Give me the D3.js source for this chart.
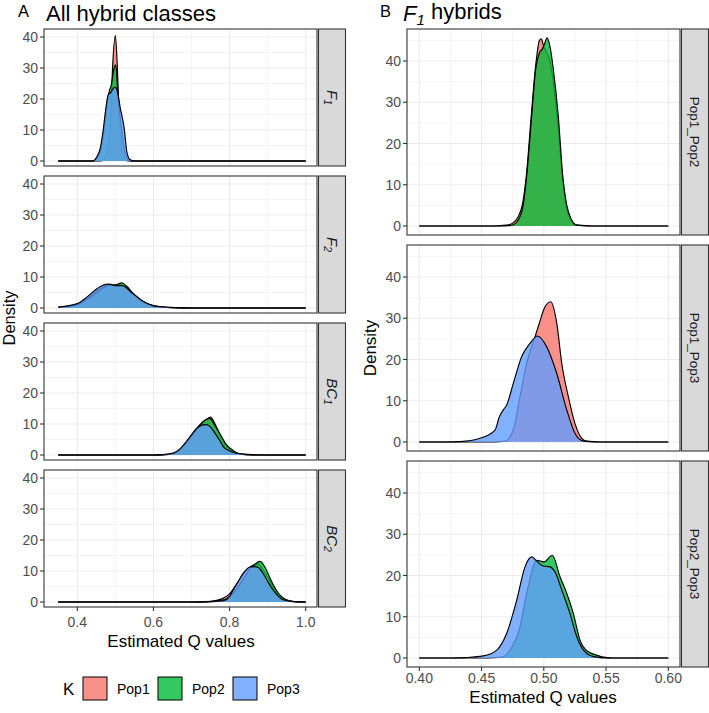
<!DOCTYPE html>
<html><head><meta charset="utf-8">
<script src="https://cdn.jsdelivr.net/npm/d3@7"></script>
<style>body{margin:0;background:#fff}svg{display:block}text{font-family:"Liberation Sans",Arial,sans-serif}</style>
</head><body><svg id="c" width="709" height="713"></svg>
<script>
// ---------------- data ----------------
const pops = ["Pop1", "Pop2", "Pop3"];
const popColors = ["#F8766D", "#00BA38", "#619CFF"];
const leftFacets = ["F1", "F2", "BC1", "BC2"];
const rightFacets = ["Pop1_Pop2", "Pop1_Pop3", "Pop2_Pop3"];
const leftXTicks = [0.4, 0.6, 0.8, 1.0];
const leftXMinor = [0.5, 0.7, 0.9];
const rightXTicks = [0.40, 0.45, 0.50, 0.55, 0.60];
const rightXMinor = [0.425, 0.475, 0.525, 0.575];
const yTicks = [0, 10, 20, 30, 40];
const yMinorLeft = [5, 15, 25, 35];
const yMinorRight = [5, 15, 25, 35, 45];

// Panel A densities [Q, density]
const aF1Pop1 = [[0.35,0],[0.46,0],[0.47,0.5],[0.48,3],[0.487,12],[0.493,31],[0.5,40.5],[0.505,31],[0.51,15],[0.516,5],[0.522,1],[0.53,0.1],[0.54,0],[1.0,0]];
const aF1Pop2 = [[0.35,0],[0.44,0],[0.445,0.2],[0.452,1],[0.46,3],[0.468,8],[0.475,15],[0.483,22],[0.49,25],[0.495,29],[0.5,31],[0.503,29],[0.506,22],[0.512,15],[0.518,9],[0.524,3.5],[0.53,1],[0.54,0],[1.0,0]];
const aF1Pop3 = [[0.35,0],[0.44,0],[0.445,0.3],[0.451,1.3],[0.46,4],[0.468,10],[0.475,17],[0.481,21.3],[0.487,22],[0.494,23.3],[0.4985,23.8],[0.5035,23.2],[0.513,17],[0.5235,10.3],[0.53,3],[0.538,0.5],[0.55,0],[1.0,0]];
const aF2Pop1 = [[0.35,0.2],[0.4,1.2],[0.43,3.5],[0.46,6.2],[0.48,7.3],[0.5,7.4],[0.515,7.5],[0.53,6.3],[0.55,4.0],[0.575,1.9],[0.6,0.7],[0.65,0.1],[0.7,0],[1.0,0]];
const aF2Pop2 = [[0.35,0.2],[0.4,1.0],[0.43,3.0],[0.46,5.8],[0.48,7.1],[0.5,7.4],[0.517,8.1],[0.53,7.0],[0.547,4.7],[0.573,2.0],[0.6,0.8],[0.65,0.1],[0.7,0],[1.0,0]];
const aF2Pop3 = [[0.35,0.3],[0.4,1.4],[0.426,3.6],[0.4525,6.3],[0.4745,7.6],[0.485,7.7],[0.5,7.2],[0.518,7.2],[0.5445,4.8],[0.575,2.0],[0.6,0.7],[0.645,0.2],[0.7,0],[1.0,0]];
const aBC1Pop1 = [[0.35,0],[0.6,0],[0.64,0.2],[0.66,1],[0.68,3],[0.7,6.5],[0.72,9.5],[0.74,11.5],[0.75,12.2],[0.76,10.5],[0.775,6.5],[0.79,3.2],[0.81,1],[0.83,0.3],[0.86,0],[1.0,0]];
const aBC1Pop2 = [[0.35,0],[0.6,0],[0.64,0.2],[0.66,0.8],[0.68,3],[0.7,6],[0.72,9.3],[0.735,11.2],[0.748,11.8],[0.76,9.8],[0.775,6.8],[0.79,3.6],[0.81,1.4],[0.826,0.4],[0.85,0.1],[0.88,0],[1.0,0]];
const aBC1Pop3 = [[0.35,0],[0.6,0],[0.63,0.2],[0.652,0.6],[0.67,2],[0.683,3.8],[0.7,6.5],[0.715,8.7],[0.73,9.7],[0.74,9.8],[0.75,9.0],[0.762,7],[0.775,4.5],[0.7835,2.7],[0.8,1.3],[0.81,0.8],[0.836,0.3],[0.86,0.1],[0.9,0],[1.0,0]];
const aBC2Pop1 = [[0.35,0],[0.7,0],[0.75,0.2],[0.78,1],[0.8,2.6],[0.82,6],[0.84,9.6],[0.86,11.8],[0.875,12.2],[0.89,10],[0.905,7],[0.92,3.5],[0.94,1.2],[0.96,0.3],[0.98,0.05],[1.0,0]];
const aBC2Pop2 = [[0.35,0],[0.72,0],[0.76,0.2],[0.79,0.9],[0.81,2.8],[0.83,6.2],[0.85,10],[0.865,12],[0.88,13.1],[0.893,11.2],[0.9065,7.7],[0.918,4.8],[0.928,2.9],[0.94,1.4],[0.95,0.6],[0.97,0.1],[1.0,0]];
const aBC2Pop3 = [[0.35,0],[0.7,0],[0.75,0.1],[0.7835,0.4],[0.8,1.8],[0.81,4],[0.823,6.7],[0.836,9.3],[0.8537,11.3],[0.865,11.4],[0.8755,11.1],[0.886,9.6],[0.8975,7.2],[0.91,4.6],[0.924,2.4],[0.937,1],[0.95,0.4],[0.97,0.1],[1.0,0]];

// Panel B densities
const b12Pop1 = [[0.4,0],[0.46,0],[0.47,0.2],[0.475,0.7],[0.479,2],[0.483,5.5],[0.486,12.3],[0.49,27],[0.4935,39],[0.4965,45],[0.498,45.4],[0.4995,44],[0.5015,42.5],[0.505,40],[0.5076,35],[0.5116,24],[0.515,11.5],[0.518,4.8],[0.522,1.3],[0.527,0.2],[0.54,0],[0.6,0]];
const b12Pop2 = [[0.4,0],[0.465,0],[0.472,0.1],[0.4755,0.3],[0.4795,1.45],[0.4835,5.1],[0.4863,12.3],[0.4903,26.8],[0.4935,38.1],[0.4965,42],[0.499,43],[0.501,44.5],[0.5025,45.6],[0.505,43.5],[0.5076,38.1],[0.5116,26.8],[0.5152,12.3],[0.5184,5.1],[0.5224,1.45],[0.5264,0.2],[0.535,0],[0.6,0]];
const b13Pop1 = [[0.4,0],[0.46,0],[0.4688,0.2],[0.4755,2.9],[0.4809,11],[0.4863,19.1],[0.4929,25.5],[0.4964,28.8],[0.5005,32.5],[0.5055,34.0],[0.5104,28.8],[0.5144,19.1],[0.5197,11],[0.525,4.5],[0.5304,0.9],[0.5345,0.2],[0.545,0],[0.6,0]];
const b13Pop3 = [[0.4,0],[0.42,0],[0.4327,0.1],[0.4488,0.9],[0.4608,2.9],[0.4643,6.1],[0.4675,7.8],[0.4702,9],[0.4755,14.2],[0.4822,20.7],[0.4889,23.9],[0.4948,25.7],[0.5023,23.1],[0.5104,16.6],[0.5184,7.8],[0.525,2.1],[0.5317,0.2],[0.54,0],[0.6,0]];
const b23Pop2 = [[0.4,0],[0.455,0],[0.466,0.2],[0.4729,1.9],[0.4809,7.6],[0.4863,15.7],[0.4943,23.7],[0.5002,23.3],[0.5068,24.9],[0.513,19.7],[0.5184,15.7],[0.5237,10.8],[0.529,4.4],[0.5357,1.5],[0.5425,0.7],[0.5478,0.2],[0.555,0],[0.6,0]];
const b23Pop3 = [[0.4,0],[0.425,0],[0.437,0.1],[0.4514,0.5],[0.4622,1.9],[0.4702,6],[0.4782,14],[0.4849,22.1],[0.4903,24.5],[0.4943,23.5],[0.4996,22.3],[0.505,22.1],[0.509,20.9],[0.5144,16.5],[0.521,10.8],[0.5264,5.2],[0.5345,1.1],[0.5425,0.2],[0.55,0],[0.6,0]];

const leftSeries = [
  [[aF1Pop1,0],[aF1Pop2,1],[aF1Pop3,2]],
  [[aF2Pop1,0],[aF2Pop2,1],[aF2Pop3,2]],
  [[aBC1Pop1,0],[aBC1Pop2,1],[aBC1Pop3,2]],
  [[aBC2Pop1,0],[aBC2Pop2,1],[aBC2Pop3,2]]
];
const rightSeries = [
  [[b12Pop1,0],[b12Pop2,1]],
  [[b13Pop1,0],[b13Pop3,2]],
  [[b23Pop2,1],[b23Pop3,2]]
];

// ---------------- drawing ----------------
const svg = d3.select("#c");
const gridCol = "#EBEBEB", borderCol = "#333333", tickTextCol = "#4D4D4D";

function drawPanel(opt){
  const {top, h, x0, x1, xs, y0off, y40off, series, xTicks, xMinor, yMinor, id, showX} = opt;
  const ys = d3.scaleLinear().domain([0,40]).range([top+y0off, top+y40off]);
  const g = svg.append("g");
  const clipId = "clip"+id;
  svg.append("clipPath").attr("id", clipId).append("rect").attr("x",x0).attr("y",top).attr("width",x1-x0).attr("height",h);
  g.append("rect").attr("x",x0).attr("y",top).attr("width",x1-x0).attr("height",h).attr("fill","#fff");
  const gg = g.append("g").attr("clip-path", `url(#${clipId})`);
  xMinor.forEach(v=>gg.append("line").attr("x1",xs(v)).attr("x2",xs(v)).attr("y1",top).attr("y2",top+h).attr("stroke",gridCol).attr("stroke-width",0.55));
  yMinor.forEach(v=>gg.append("line").attr("x1",x0).attr("x2",x1).attr("y1",ys(v)).attr("y2",ys(v)).attr("stroke",gridCol).attr("stroke-width",0.55));
  xTicks.forEach(v=>gg.append("line").attr("x1",xs(v)).attr("x2",xs(v)).attr("y1",top).attr("y2",top+h).attr("stroke",gridCol).attr("stroke-width",1.1));
  yTicks.forEach(v=>gg.append("line").attr("x1",x0).attr("x2",x1).attr("y1",ys(v)).attr("y2",ys(v)).attr("stroke",gridCol).attr("stroke-width",1.1));
  const area = d3.area().x(d=>xs(d[0])).y0(ys(0)).y1(d=>ys(d[1])).curve(d3.curveMonotoneX);
  const line = d3.line().x(d=>xs(d[0])).y(d=>ys(d[1])).curve(d3.curveMonotoneX);
  series.forEach(([data, ci])=>{
    gg.append("path").attr("d", area(data)).attr("fill", popColors[ci]).attr("fill-opacity",0.8);
    gg.append("path").attr("d", line(data)).attr("fill","none").attr("stroke","#000").attr("stroke-width",1.15).attr("stroke-linejoin","round");
  });
  g.append("rect").attr("x",x0).attr("y",top).attr("width",x1-x0).attr("height",h).attr("fill","none").attr("stroke",borderCol).attr("stroke-width",1.1);
  yTicks.forEach(v=>{
    g.append("line").attr("x1",x0-4).attr("x2",x0).attr("y1",ys(v)).attr("y2",ys(v)).attr("stroke",borderCol).attr("stroke-width",1.1);
    g.append("text").attr("x",x0-6).attr("y",ys(v)).attr("dy","0.36em").attr("text-anchor","end")
      .attr("font-size",14).attr("fill",tickTextCol).text(v);
  });
  if(showX){
    xTicks.forEach(v=>{
      g.append("line").attr("x1",xs(v)).attr("x2",xs(v)).attr("y1",top+h).attr("y2",top+h+4).attr("stroke",borderCol).attr("stroke-width",1.1);
      g.append("text").attr("x",xs(v)).attr("y",top+h+opt.xLabOff).attr("dy","0.36em").attr("text-anchor","middle")
        .attr("font-size",14).attr("fill",tickTextCol).text(opt.fmt(v));
    });
  }
}

function drawStrip(x, top, w, h, labelFn){
  svg.append("rect").attr("x",x).attr("y",top).attr("width",w).attr("height",h).attr("fill","#D9D9D9").attr("stroke",borderCol).attr("stroke-width",1.1);
  const t = svg.append("text").attr("transform",`translate(${x+w/2},${top+h/2}) rotate(90)`)
    .attr("text-anchor","middle").attr("dy","0.35em").attr("font-size",14).attr("fill","#1A1A1A");
  labelFn(t);
}
function subLabel(base, sub){
  return t=>{
    t.append("tspan").attr("font-style","italic").attr("font-size",15).text(base);
    t.append("tspan").attr("font-style","italic").attr("font-size",10.5).attr("dy","0.3em").text(sub);
  };
}
const leftLabels = [subLabel("F","1"), subLabel("F","2"), subLabel("BC","1"), subLabel("BC","2")];

// Left (A)
const xL = d3.scaleLinear().domain([0.4,1.0]).range([77.3,305.7]);
const leftTops = [29,176,323,470];
leftFacets.forEach((f,i)=>{
  drawPanel({top:leftTops[i], h:137, x0:44, x1:317, xs:xL, y0off:132, y40off:8, series:leftSeries[i],
    xTicks:leftXTicks, xMinor:leftXMinor, yMinor:yMinorLeft, id:"L"+i, showX:i===3, xLabOff:14.5, fmt:d3.format(".1f")});
  drawStrip(318.5, leftTops[i], 27, 137, leftLabels[i]);
});

// Right (B)
const xR = d3.scaleLinear().domain([0.4,0.6]).range([419.3,668.3]);
const rightTops = [29,245,461];
rightFacets.forEach((f,i)=>{
  drawPanel({top:rightTops[i], h:206, x0:407, x1:680, xs:xR, y0off:197, y40off:32, series:rightSeries[i],
    xTicks:rightXTicks, xMinor:rightXMinor, yMinor:yMinorRight, id:"R"+i, showX:i===2, xLabOff:11, fmt:d3.format(".2f")});
  drawStrip(681.5, rightTops[i], 27, 206, t=>t.attr("font-size",13.5).text(f));
});

// titles
svg.append("text").attr("x",18).attr("y",17).attr("font-size",16.5).attr("fill","#000").text("A");
svg.append("text").attr("x",46).attr("y",21).attr("font-size",22).attr("fill","#000").text("All hybrid classes");
svg.append("text").attr("x",380).attr("y",17).attr("font-size",16.5).attr("fill","#000").text("B");
const tb = svg.append("text").attr("x",403).attr("y",21).attr("font-size",22).attr("fill","#000");
tb.append("tspan").attr("font-style","italic").text("F");
tb.append("tspan").attr("font-style","italic").attr("font-size",15).attr("dy","0.25em").text("1");
tb.append("tspan").attr("dy","-0.25em").attr("font-size",22).text(" hybrids");

// axis titles
svg.append("text").attr("x",181).attr("y",641).attr("dy","0.35em").attr("text-anchor","middle").attr("font-size",17).text("Estimated Q values");
svg.append("text").attr("x",543).attr("y",697).attr("dy","0.35em").attr("text-anchor","middle").attr("font-size",17).text("Estimated Q values");
svg.append("text").attr("transform","translate(9.5,318) rotate(-90)").attr("dy","0.35em").attr("text-anchor","middle").attr("font-size",16.5).text("Density");
svg.append("text").attr("transform","translate(370,348) rotate(-90)").attr("dy","0.35em").attr("text-anchor","middle").attr("font-size",17).text("Density");

// legend
const lg = svg.append("g");
lg.append("text").attr("x",63).attr("y",689).attr("dy","0.36em").attr("font-size",17).text("K");
const keyX = [83,158,233];
pops.forEach((p,i)=>{
  lg.append("rect").attr("x",keyX[i]).attr("y",677).attr("width",24).attr("height",23).attr("fill","#fff");
  lg.append("rect").attr("x",keyX[i]).attr("y",677).attr("width",24).attr("height",23)
    .attr("fill",popColors[i]).attr("fill-opacity",0.8).attr("stroke","#000").attr("stroke-width",1);
  lg.append("text").attr("x",keyX[i]+34).attr("y",689).attr("dy","0.36em").attr("font-size",14).text(p);
});
</script></body></html>
